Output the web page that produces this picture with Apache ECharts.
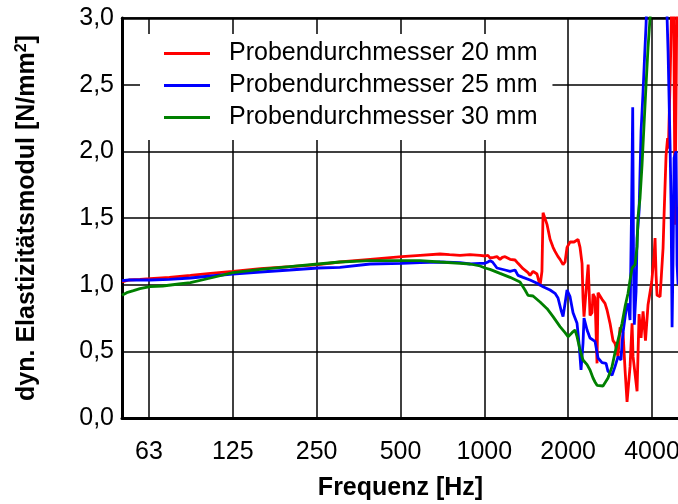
<!DOCTYPE html>
<html>
<head>
<meta charset="utf-8">
<script src="https://cdn.jsdelivr.net/npm/echarts@6/dist/echarts.min.js"></script>
<style>
  html, body { margin: 0; padding: 0; background: #fff; }
  #chart { width: 678px; height: 504px; }
</style>
</head>
<body>
<div id="chart"></div>
<script>
// Frequency axis: octave labels on a logarithmic scale
const xTickValues = [62.5, 125, 250, 500, 1000, 2000, 4000];
const xTickLabels = ['63', '125', '250', '500', '1000', '2000', '4000'];

const seriesNames = ['Probendurchmesser 20 mm', 'Probendurchmesser 25 mm', 'Probendurchmesser 30 mm'];
const seriesColors = ['#ff0000', '#0000ff', '#008000'];

// [frequency in Hz, dynamic modulus in N/mm²]
const d20 = [
  [50, 1.02], [53, 1.035], [58, 1.04], [63, 1.045], [74, 1.055], [88, 1.07], [104, 1.085],
  [125, 1.10], [157, 1.12], [200, 1.135], [253, 1.15], [303, 1.17], [389, 1.19], [506, 1.21],
  [588, 1.22], [693, 1.23], [750, 1.225], [818, 1.22], [888, 1.225], [965, 1.22], [1006, 1.215],
  [1030, 1.22], [1048, 1.20], [1080, 1.205], [1110, 1.21], [1138, 1.19], [1160, 1.205], [1187, 1.21],
  [1237, 1.19], [1289, 1.185], [1321, 1.16], [1377, 1.12], [1435, 1.09], [1459, 1.07], [1496, 1.10],
  [1520, 1.11], [1546, 1.08], [1585, 0.99], [1610, 1.10], [1625, 1.54], [1652, 1.53], [1680, 1.45],
  [1722, 1.34], [1765, 1.28], [1794, 1.25], [1839, 1.21], [1870, 1.19], [1917, 1.15], [1949, 1.17],
  [1981, 1.28], [2031, 1.32], [2100, 1.32], [2170, 1.34], [2206, 1.28], [2243, 1.16], [2261, 0.90],
  [2280, 0.76], [2360, 1.15], [2396, 0.77], [2436, 0.79], [2456, 0.93], [2497, 0.90], [2539, 0.41],
  [2560, 0.94], [2646, 0.89], [2712, 0.86], [2758, 0.81], [2827, 0.71], [2898, 0.58], [2946, 0.56],
  [3020, 0.46], [3071, 0.68], [3148, 0.64], [3201, 0.36], [3254, 0.12], [3336, 0.385], [3392, 0.71],
  [3420, 0.46], [3535, 0.20], [3594, 0.78], [3654, 0.60], [3715, 0.80], [3790, 0.58], [3871, 0.85],
  [3990, 1.02], [4069, 1.22], [4102, 1.35], [4137, 1.07], [4171, 0.92], [4276, 0.91], [4347, 0.92],
  [4383, 1.275], [4419, 1.52], [4493, 1.97], [4550, 2.10], [4580, 2.02], [4644, 2.52], [4700, 3.05],
  [4780, 3.3], [4840, 1.45], [4920, 3.3]
];

const d25 = [
  [50, 1.03], [53, 1.035], [58, 1.035], [63, 1.035], [74, 1.04], [88, 1.05], [104, 1.065],
  [125, 1.08], [157, 1.095], [200, 1.11], [253, 1.125], [303, 1.13], [389, 1.155], [506, 1.16],
  [588, 1.165], [693, 1.17], [818, 1.165], [888, 1.155], [965, 1.16], [1006, 1.16], [1030, 1.17],
  [1048, 1.18], [1070, 1.17], [1110, 1.125], [1187, 1.11], [1237, 1.10], [1289, 1.11], [1321, 1.07],
  [1377, 1.055], [1459, 1.035], [1546, 1.01], [1625, 0.985], [1722, 0.96], [1794, 0.935], [1839, 0.90],
  [1885, 0.81], [1917, 0.76], [1949, 0.86], [1981, 0.96], [2031, 0.91], [2082, 0.79], [2152, 0.71],
  [2188, 0.56], [2224, 0.36], [2261, 0.56], [2280, 0.75], [2338, 0.66], [2396, 0.60], [2497, 0.575],
  [2560, 0.45], [2646, 0.415], [2735, 0.41], [2780, 0.35], [2874, 0.32], [2946, 0.385], [3020, 0.46],
  [3096, 0.435], [3122, 0.56], [3148, 0.64], [3227, 0.81], [3281, 0.86], [3336, 0.735], [3380, 1.6],
  [3410, 2.33], [3435, 1.1], [3455, 0.70], [3506, 0.95], [3535, 1.35], [3594, 1.55], [3654, 2.15],
  [3715, 2.45], [3760, 2.70], [3808, 2.95], [3840, 3.2], [4500, 3.3], [4531, 3.0], [4568, 2.75],
  [4644, 2.05], [4683, 1.6], [4722, 0.68], [4761, 1.2], [4801, 1.95], [4881, 2.0], [4921, 1.15],
  [4962, 1.0]
];

const d30 = [
  [50, 0.92], [52, 0.94], [55, 0.955], [58, 0.97], [63, 0.985], [70, 0.99], [80, 1.005], [88, 1.015],
  [104, 1.05], [125, 1.09], [157, 1.115], [200, 1.135], [253, 1.155], [303, 1.17], [389, 1.18],
  [506, 1.18], [588, 1.18], [693, 1.17], [818, 1.16], [888, 1.155], [965, 1.14], [1006, 1.125],
  [1048, 1.115], [1138, 1.085], [1237, 1.055], [1343, 1.02], [1400, 0.96], [1435, 0.92], [1496, 0.915],
  [1585, 0.87], [1680, 0.82], [1765, 0.76], [1870, 0.685], [1949, 0.64], [1998, 0.61], [2065, 0.64],
  [2117, 0.66], [2152, 0.61], [2206, 0.51], [2261, 0.435], [2338, 0.40], [2396, 0.36], [2456, 0.30],
  [2497, 0.27], [2539, 0.245], [2668, 0.24], [2712, 0.25], [2780, 0.30], [2874, 0.385], [2946, 0.49],
  [3020, 0.585], [3122, 0.71], [3201, 0.835], [3281, 0.935], [3336, 1.035], [3392, 1.125], [3477, 1.15],
  [3535, 1.285], [3564, 1.51], [3623, 1.65], [3684, 1.90], [3745, 2.20], [3808, 2.50], [3871, 2.78],
  [3936, 3.0], [3990, 3.2]
];

const seriesData = [d20, d25, d30];

const FONT = '"Liberation Sans", Arial, sans-serif';

const chart = echarts.init(document.getElementById('chart'), null, { renderer: 'canvas' });

function tickLabel(v) {
  let best = 0;
  for (let i = 1; i < xTickValues.length; i++) {
    if (Math.abs(Math.log(xTickValues[i] / v)) < Math.abs(Math.log(xTickValues[best] / v))) best = i;
  }
  return xTickLabels[best];
}

const option = {
  animation: false,
  backgroundColor: '#ffffff',
  grid: { left: 122, top: 18, width: 557, height: 400, containLabel: false, outerBoundsMode: 'none' },
  legend: {
    left: 140,
    top: 34,
    orient: 'vertical',
    backgroundColor: '#ffffff',
    padding: [7, 15, 10, 24],
    icon: 'rect',
    itemWidth: 46,
    itemHeight: 3,
    itemGap: 7,
    textStyle: { fontFamily: FONT, fontSize: 25, color: '#000', lineHeight: 25, padding: [0, 0, 0, 14] },
    data: seriesNames
  },
  xAxis: [
    {
      type: 'log',
      logBase: 2,
      min: 50,
      max: 5000,
      name: 'Frequenz [Hz]',
      nameLocation: 'middle',
      nameGap: 58,
      nameTextStyle: { fontFamily: FONT, fontSize: 25, fontWeight: 'bold', color: '#000' },
      axisLine: { show: true, lineStyle: { color: '#000', width: 3 } },
      axisTick: { show: false, customValues: xTickValues },
      axisLabel: {
        customValues: xTickValues,
        formatter: tickLabel,
        fontFamily: FONT, fontSize: 25, color: '#000', margin: 22
      },
      splitLine: { show: true, lineStyle: { color: '#000', width: 1.5 } },
      minorTick: { show: false },
      minorSplitLine: { show: false }
    },
    {
      type: 'log',
      position: 'top',
      min: 50,
      max: 5000,
      axisLine: { show: true, lineStyle: { color: '#000', width: 2.5 } },
      axisTick: { show: false },
      axisLabel: { show: false },
      splitLine: { show: false }
    }
  ],
  yAxis: {
    type: 'value',
    min: 0,
    max: 3,
    interval: 0.5,
    name: '{t|dyn. Elastizitätsmodul [N/mm}{s|2}{t|]}',
    nameLocation: 'middle',
    nameGap: 82,
    nameTextStyle: {
      rich: {
        t: { fontFamily: FONT, fontSize: 25, fontWeight: 'bold', color: '#000', lineHeight: 26 },
        s: { fontFamily: FONT, fontSize: 16, fontWeight: 'bold', color: '#000', lineHeight: 16, verticalAlign: 'top' }
      }
    },
    axisLine: { show: true, lineStyle: { color: '#000', width: 3 } },
    axisTick: { show: false },
    axisLabel: {
      formatter: v => v.toFixed(1).replace('.', ','),
      fontFamily: FONT, fontSize: 25, color: '#000', margin: 8
    },
    splitLine: { show: true, lineStyle: { color: '#000', width: 1.5 } }
  },
  series: seriesData.map((d, i) => ({
    name: seriesNames[i],
    type: 'line',
    xAxisIndex: 0,
    data: d,
    symbol: 'none',
    showSymbol: false,
    clip: true,
    lineStyle: { color: seriesColors[i], width: 2.8 },
    itemStyle: { color: seriesColors[i] },
    z: 2
  }))
};

chart.setOption(option);
</script>
</body>
</html>
